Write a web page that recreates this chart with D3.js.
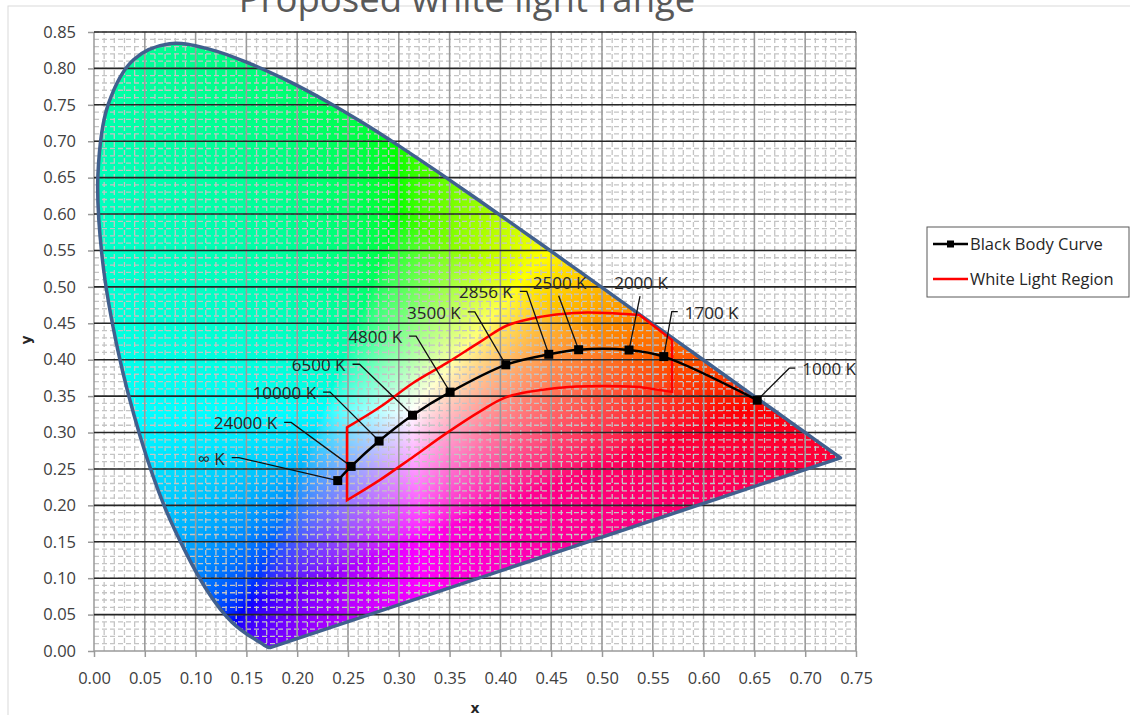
<!DOCTYPE html>
<html lang="en">
<head>
<meta charset="UTF-8">
<title>CIE white light range</title>
<script src="https://d3js.org/d3.v7.min.js"></script>
<style>
  body { margin: 0; background: #fff; }
  text { font-family: "Open Sans", "Noto Sans", sans-serif; }
</style>
</head>
<body>
<svg width="1130" height="715"></svg>
<script>
// spectral locus (CIE 1931 2deg), wavelength nm, x, y
var locusNm = [380,390,400,410,420,425,430,435,440,445,450,455,460,465,470,475,480,485,490,495,500,505,510,515,520,525,530,535,540,545,550,555,560,565,570,575,580,585,590,595,600,605,610,615,620,625,630,640,650,660,680,700];
var locusX = [0.1741,0.1738,0.1733,0.1726,0.1714,0.1703,0.1689,0.1669,0.1644,0.1611,0.1566,0.1510,0.1440,0.1355,0.1241,0.1096,0.0913,0.0687,0.0454,0.0235,0.0082,0.0039,0.0139,0.0389,0.0743,0.1142,0.1547,0.1929,0.2296,0.2658,0.3016,0.3373,0.3731,0.4087,0.4441,0.4788,0.5125,0.5448,0.5752,0.6029,0.6270,0.6482,0.6658,0.6801,0.6915,0.7006,0.7079,0.7190,0.7260,0.7300,0.7334,0.7347];
var locusY = [0.0050,0.0049,0.0048,0.0048,0.0051,0.0058,0.0069,0.0086,0.0109,0.0138,0.0177,0.0227,0.0297,0.0399,0.0578,0.0868,0.1327,0.2007,0.2950,0.4127,0.5384,0.6548,0.7502,0.8120,0.8338,0.8262,0.8059,0.7816,0.7543,0.7243,0.6923,0.6589,0.6245,0.5896,0.5547,0.5202,0.4866,0.4544,0.4242,0.3965,0.3725,0.3514,0.3340,0.3197,0.3083,0.2993,0.2920,0.2809,0.2740,0.2700,0.2666,0.2653];

// black body curve
var bbLabels = ["\u221E K","24000 K","10000 K","6500 K","4800 K","3500 K","2856 K","2500 K","2000 K","1700 K","1000 K"];
var bbX = [0.2399,0.2531,0.2806,0.3135,0.3505,0.4053,0.4476,0.4770,0.5266,0.5608,0.6528];
var bbY = [0.2340,0.2535,0.2883,0.3237,0.3555,0.3930,0.4074,0.4137,0.4133,0.4043,0.3444];

// white light region
var upperX = [0.249,0.2815,0.314,0.3474,0.380,0.4065,0.439,0.472,0.505,0.537];
var upperY = [0.307,0.335,0.368,0.3956,0.4245,0.447,0.4588,0.4643,0.4643,0.4615];
var edgeX = [0.569,0.569];
var edgeY = [0.427,0.3558];
var lowerX = [0.537,0.501,0.4557,0.4065,0.380,0.3474,0.314,0.2815,0.249];
var lowerY = [0.3626,0.364,0.3613,0.349,0.329,0.2995,0.2665,0.235,0.207];

var xTicks = d3.range(0, 16).map(i => i * 0.05);
var yTicks = d3.range(0, 18).map(i => i * 0.05);

// label placement relative to marker: dx, dy (px), anchor
var labelPos = [
  [-113,-22,"end"],[-74,-43,"end"],[-63,-48,"end"],[-67,-50,"end"],[-48,-55,"end"],
  [-45,-52,"end"],[-36,-62,"end"],[-19,-67,"middle"],[12,-67,"middle"],[21,-44,"start"],[45,-31,"start"]
];

var svg = d3.select("svg");
var x = d3.scaleLinear().domain([0, 0.75]).range([94, 856]);
var y = d3.scaleLinear().domain([0, 0.85]).range([651, 32]);

// chart border
svg.append("rect").attr("x", 8).attr("y", 6).attr("width", 1140).attr("height", 730)
  .attr("fill", "none").attr("stroke", "#d9d9d9");

// colour fill, clipped to the locus
var smooth = d3.line().x(d => x(d[0])).y(d => y(d[1])).curve(d3.curveCatmullRom.alpha(0.5));
var locusD = smooth(locusX.map((d, i) => [d, locusY[i]])) + "Z";
var defs = svg.append("defs");
defs.append("clipPath").attr("id", "locusClip").append("path").attr("d", locusD);

var W = Math.round(x(0.75) - x(0)), H = Math.round(y(0) - y(0.85));
var cv = document.createElement("canvas");
cv.width = W; cv.height = H;
var ctx = cv.getContext("2d");
var img = ctx.createImageData(W, H);
function gam(c) { return c <= 0.0031308 ? 12.92 * c : 1.055 * Math.pow(c, 1 / 2.4) - 0.055; }
for (var py = 0; py < H; py++) {
  var yv = y.invert(y(0.85) + py + 0.5);
  for (var px = 0; px < W; px++) {
    var xv = x.invert(x(0) + px + 0.5);
    var k = (py * W + px) * 4;
    if (yv < 0.001) continue;
    var X = xv / yv, Z = (1 - xv - yv) / yv;
    var r = 3.2406 * X - 1.5372 - 0.4986 * Z;
    var g = -0.9689 * X + 1.8758 + 0.0415 * Z;
    var b = 0.0557 * X - 0.2040 + 1.0570 * Z;
    var mn = Math.min(r, g, b);
    if (mn < 0) { r -= mn; g -= mn; b -= mn; }
    var mx = Math.max(r, g, b);
    img.data[k] = 255 * gam(Math.pow(r / mx, 1.35));
    img.data[k + 1] = 255 * gam(Math.pow(g / mx, 1.35));
    img.data[k + 2] = 255 * gam(Math.pow(b / mx, 1.35));
    img.data[k + 3] = 255;
  }
}
ctx.putImageData(img, 0, 0);
svg.append("image").attr("x", x(0)).attr("y", y(0.85)).attr("width", W).attr("height", H)
  .attr("href", cv.toDataURL()).attr("clip-path", "url(#locusClip)");

// grid
var grid = svg.append("g");
var minorX = d3.range(1, 76).map(i => i / 100);
var minorY = d3.range(1, 86).map(i => i / 100);
grid.selectAll(".mx").data(minorX).join("line")
  .attr("x1", d => x(d)).attr("x2", d => x(d)).attr("y1", y(0)).attr("y2", y(0.85))
  .attr("stroke", "#c4c4c4").attr("stroke-width", 1.3).attr("stroke-dasharray", "5,3");
grid.selectAll(".my").data(minorY).join("line")
  .attr("y1", d => y(d)).attr("y2", d => y(d)).attr("x1", x(0)).attr("x2", x(0.75))
  .attr("stroke", "#c4c4c4").attr("stroke-width", 1.3).attr("stroke-dasharray", "5,3");
grid.selectAll(".vx").data(xTicks).join("line")
  .attr("x1", d => x(d)).attr("x2", d => x(d)).attr("y1", y(0)).attr("y2", y(0.85))
  .attr("stroke", "#9a9a9a").attr("stroke-width", 1.5);
grid.selectAll(".hy").data(yTicks.slice(1)).join("line")
  .attr("y1", d => y(d)).attr("y2", d => y(d)).attr("x1", x(0)).attr("x2", x(0.75))
  .attr("stroke", "#262626").attr("stroke-width", 1.6);
grid.append("line").attr("x1", x(0)).attr("x2", x(0.75)).attr("y1", y(0)).attr("y2", y(0))
  .attr("stroke", "#9a9a9a").attr("stroke-width", 1.5);

// axes
var xAxis = d3.axisBottom(x).tickValues(xTicks).tickFormat(d3.format(".2f")).tickSize(6).tickPadding(12);
var yAxis = d3.axisLeft(y).tickValues(yTicks).tickFormat(d3.format(".2f")).tickSize(6).tickPadding(12);
var gx = svg.append("g").attr("transform", "translate(0," + y(0) + ")").call(xAxis);
var gy = svg.append("g").attr("transform", "translate(" + x(0) + ",0)").call(yAxis);
[gx, gy].forEach(function(a) {
  a.select(".domain").remove();
  a.selectAll(".tick line").attr("stroke", "#9a9a9a").attr("stroke-width", 1.5);
  a.selectAll(".tick text").attr("fill", "#404040").style("font-size", "16.5px")
    .style("font-family", "'Open Sans', sans-serif");
});
gx.selectAll(".tick text").attr("dy", "0.9em");

svg.append("text").attr("x", x(0.375)).attr("y", 713).attr("text-anchor", "middle")
  .style("font-family", "'DejaVu Sans', sans-serif").style("font-weight", "bold").style("font-size", "14px")
  .attr("fill", "#262626").text("x");
svg.append("text").attr("transform", "translate(31,340) rotate(-90)").attr("text-anchor", "middle")
  .style("font-family", "'DejaVu Sans', sans-serif").style("font-weight", "bold").style("font-size", "14px")
  .attr("fill", "#262626").text("y");

// title (cut at the top edge as in the source)
svg.append("text").attr("x", 467).attr("y", 12).attr("text-anchor", "middle")
  .style("font-size", "36.5px").attr("fill", "#595959").text("Proposed white light range");

// locus outline
svg.append("path").attr("d", locusD)
  .attr("fill", "none").attr("stroke", "#41608e").attr("stroke-width", 3.5).attr("stroke-linejoin", "round");

// white light region
var up = upperX.map((d, i) => [d, upperY[i]]);
var lo = lowerX.map((d, i) => [d, lowerY[i]]);
var regionD = smooth(up) + edgeX.map((d, i) => "L" + x(d) + "," + y(edgeY[i])).join("") +
  smooth(lo).replace(/^M/, "L") + "Z";
svg.append("path").attr("d", regionD).attr("fill", "none").attr("stroke", "#ff0000")
  .attr("stroke-width", 2.5).attr("stroke-linejoin", "miter");

// black body curve
var bb = bbX.map((d, i) => ({ x: d, y: bbY[i], label: bbLabels[i], pos: labelPos[i] }));
svg.append("path").attr("d", smooth(bb.map(d => [d.x, d.y])))
  .attr("fill", "none").attr("stroke", "#000").attr("stroke-width", 2.5);

// leader lines + labels
var lab = svg.append("g");
bb.forEach(function(d) {
  var mx = x(d.x), my = y(d.y);
  var lx = mx + d.pos[0], ly = my + d.pos[1];
  var pts;
  if (d.pos[2] === "end") pts = [[lx + 7, ly - 1], [lx + 14, ly - 1], [mx, my]];
  else if (d.pos[2] === "middle") pts = [[lx - 1, ly + 13], [mx, my]];
  else pts = [[lx - 7, ly - 1], [lx - 13, ly - 1], [mx, my]];
  lab.append("path").attr("d", "M" + pts.join("L")).attr("fill", "none")
    .attr("stroke", "#111").attr("stroke-width", 1.3);
  lab.append("text").attr("x", lx).attr("y", ly).attr("dy", "0.35em").attr("text-anchor", d.pos[2])
    .style("font-size", "17px").attr("fill", "#262626").text(d.label);
});

svg.append("g").selectAll("rect").data(bb).join("rect")
  .attr("x", d => x(d.x) - 4.5).attr("y", d => y(d.y) - 4.5).attr("width", 9).attr("height", 9)
  .attr("fill", "#000");

// legend
var lg = svg.append("g");
lg.append("rect").attr("x", 927).attr("y", 227).attr("width", 202).attr("height", 70)
  .attr("fill", "#fff").attr("stroke", "#595959").attr("stroke-width", 1);
lg.append("line").attr("x1", 933).attr("x2", 968).attr("y1", 244).attr("y2", 244)
  .attr("stroke", "#000").attr("stroke-width", 2.5);
lg.append("rect").attr("x", 947).attr("y", 240.5).attr("width", 7).attr("height", 7).attr("fill", "#000");
lg.append("line").attr("x1", 933).attr("x2", 968).attr("y1", 279).attr("y2", 279)
  .attr("stroke", "#ff0000").attr("stroke-width", 2.5);
lg.append("text").attr("x", 970).attr("y", 244).attr("dy", "0.35em").style("font-size", "16.5px")
  .attr("fill", "#262626").text("Black Body Curve");
lg.append("text").attr("x", 970).attr("y", 279).attr("dy", "0.35em").style("font-size", "16.5px")
  .attr("fill", "#262626").text("White Light Region");
</script>
</body>
</html>
